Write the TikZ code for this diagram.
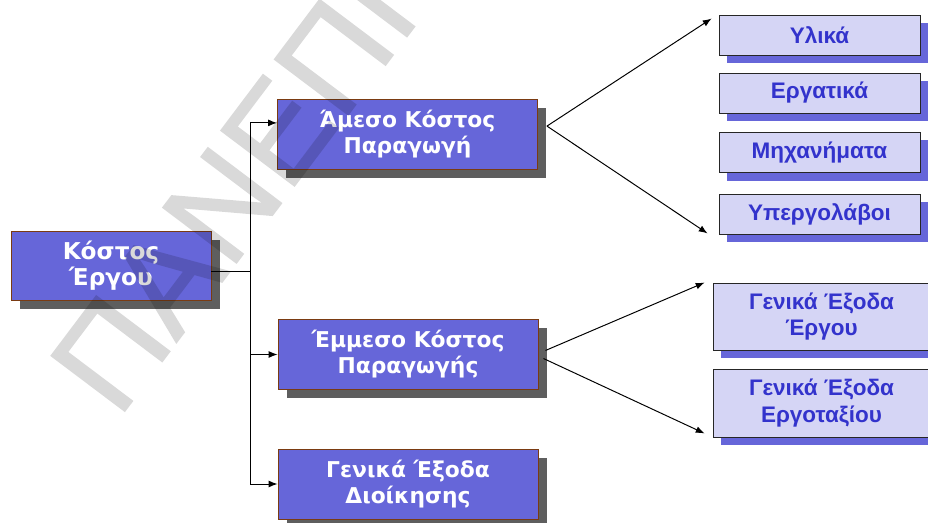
\documentclass[tikz,border=0pt]{standalone}
\usepackage{fontspec}
\setmainfont{Liberation Sans}
\newfontfamily\boxfont{DejaVu Sans}
\newfontfamily\stampfont[FakeBold=1.2]{Liberation Sans}
\usepackage{xcolor}
\usepackage{tikz}
\usetikzlibrary{arrows.meta, positioning, shadows}

\definecolor{costblue}{HTML}{6666D9}
\definecolor{costedge}{HTML}{7A3B12}
\definecolor{costshade}{HTML}{5E5E5E}
\definecolor{itemfill}{HTML}{D5D5F5}
\definecolor{itemtext}{HTML}{3333CC}

\tikzset{
  mainbox/.style={draw=costedge, fill=costblue, text=white, line width=0.6pt,
    minimum width=6.5cm, minimum height=1.75cm, align=center,
    font=\boxfont\bfseries\fontsize{15.5}{18.5}\selectfont,
    drop shadow={shadow xshift=0.22cm, shadow yshift=-0.22cm, fill=costshade, opacity=1}},
  itembox/.style={draw=black!85, fill=itemfill, text=itemtext, line width=0.6pt,
    minimum width=5.025cm, minimum height=1cm, align=center,
    font=\bfseries\fontsize{16}{19}\selectfont,
    drop shadow={shadow xshift=0.2cm, shadow yshift=-0.2cm, fill=costblue, opacity=1}},
  link/.style={line width=0.7pt}
}

\begin{document}
\begin{tikzpicture}[x=0.025cm, y=-0.025cm, >={Latex[length=2.2mm,width=1.7mm]}]
\path[use as bounding box, fill=white] (0,0) rectangle (928,523);

% Main cost and its three parts
\node[mainbox, minimum width=5cm, minimum height=1.725cm,
      font=\boxfont\bfseries\fontsize{16.5}{19}\selectfont] (kostos) at (111,265.5) {Κόστος\\Έργου};
\node[mainbox] (amesos)   at (407.5,134.5) {Άμεσο Κόστος\\Παραγωγή};
\node[mainbox] (emmesos)  at (408,354.5)   {Έμμεσο Κόστος\\Παραγωγής};
\node[mainbox] (dioikisi) at (408,484)     {Γενικά Έξοδα\\Διοίκησης};

% Direct cost items
\node[itembox] (ylika)       at (819.5,35)  {Υλικά};
\node[itembox] (ergatika)    at (819.5,93)  {Εργατικά};
\node[itembox] (michanimata) at (819.5,152.5) {Μηχανήματα};
\node[itembox] (ypergolavoi) at (819.5,214) {Υπεργολάβοι};

% Indirect cost items
\node[itembox, minimum width=5.425cm, minimum height=1.675cm] (genergou)  at (821.5,316.5) {Γενικά Έξοδα\\Έργου};
\node[itembox, minimum width=5.425cm, minimum height=1.7cm]   (genergotax) at (821.5,403) {Γενικά Έξοδα\\Εργοταξίου};

% Tree lines
\coordinate (fork) at (250.7,271.7);
\draw[link] (kostos.east |- fork) -- (fork);
\draw[link,->] (fork) |- ([yshift=0.29cm]amesos.west);
\draw[link,->] (fork) |- (emmesos.west);
\draw[link,->] (fork) |- (dioikisi.west);

% Fans to the items
\coordinate (amesosout) at ([xshift=0.225cm,yshift=0.21cm]amesos.east);
\draw[link,->] (amesosout) -- ([xshift=-0.175cm,yshift=-0.1cm]ylika.north west);
\draw[link,->] (amesosout) -- ([xshift=-0.275cm,yshift=0.025cm]ypergolavoi.south west);
\draw[link,->] ([xshift=0.175cm,yshift=0.1cm]emmesos.east) -- ([xshift=-0.2cm]genergou.north west);
\draw[link,->] ([xshift=0.125cm,yshift=-0.1cm]emmesos.east) -- ([xshift=-0.2cm,yshift=0.1cm]genergotax.south west);

% Watermark
\begin{scope}[transparency group, opacity=0.15]
\node[font=\stampfont\fontsize{95}{95}\selectfont, text=black,
      rotate=53, anchor=base west, inner sep=0pt] (stamp) at (118,420) {ΠΑΝΕΠΙ};
\end{scope}
\end{tikzpicture}
\end{document}
